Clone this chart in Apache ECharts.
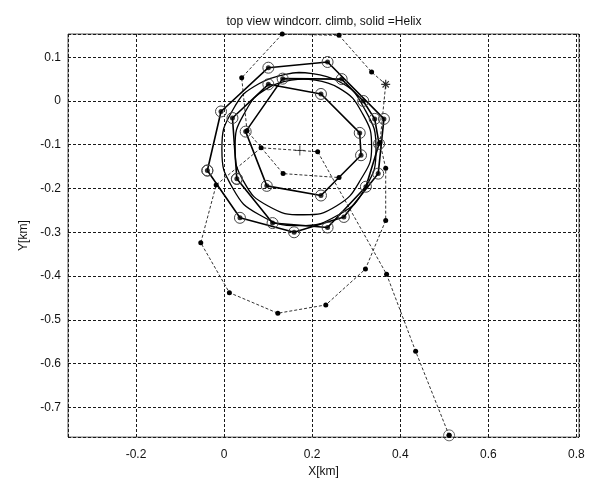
<!DOCTYPE html>
<html>
<head>
<meta charset="utf-8">
<script src="https://cdn.jsdelivr.net/npm/echarts@6/dist/echarts.min.js"></script>
<style>
  html, body { margin: 0; padding: 0; background: #fff; }
  #chart { width: 593px; height: 483px; }
</style>
</head>
<body>
<div id="chart"></div>
<script>
// Wind-corrected climb track (dashed, small dots), in km, in flight order
const trackX = [0.511, 0.435, 0.369, 0.2125, 0.084, -0.018, -0.053, 0.012, 0.122, 0.231, 0.321,
                0.367, 0.367, 0.354, 0.367, 0.335, 0.261, 0.132, 0.040, 0.052, 0.134, 0.261];
const trackY = [-0.764, -0.572, -0.396, -0.116, -0.107, -0.192, -0.324, -0.438, -0.485, -0.466, -0.384,
                -0.273, -0.154, -0.095, 0.038, 0.066, 0.150, 0.1528, 0.053, -0.068, -0.166, -0.175];
// index of the track point drawn as '*' instead of a dot
const starIndex = 14;

// Helix points (solid polylines with circled markers), in km
const outerX = [-0.038, 0.036, 0.159, 0.272, 0.350, 0.363, 0.235, 0.1005, -0.007, -0.038];
const outerY = [-0.159, -0.267, -0.300, -0.265, -0.166, -0.041, 0.089, 0.076, -0.024, -0.159];
const innerX = [0.029, 0.110, 0.235, 0.322, 0.352, 0.342, 0.316, 0.267, 0.133, 0.049,
                0.097, 0.220, 0.311, 0.308, 0.220, 0.1005, 0.019, 0.029];
const innerY = [-0.178, -0.279, -0.289, -0.196, -0.098, -0.041, 0.000, 0.050, 0.051, -0.070,
                -0.194, -0.216, -0.124, -0.073, 0.016, 0.038, -0.039, -0.178];

// Fitted helix circles (smooth solid curves)
const fitAX = [0.17, 0.26, 0.32, 0.345, 0.32, 0.26, 0.17, 0.08, 0.02, -0.005, 0.02, 0.08, 0.17];
const fitAY = [0.065, 0.045, -0.02, -0.11, -0.20, -0.26, -0.285, -0.26, -0.20, -0.11, -0.02, 0.04, 0.065];
const fitBX = [0.18, 0.26, 0.315, 0.335, 0.31, 0.255, 0.18, 0.10, 0.045, 0.025, 0.045, 0.10, 0.18];
const fitBY = [0.05, 0.03, -0.03, -0.105, -0.18, -0.24, -0.26, -0.24, -0.185, -0.105, -0.03, 0.03, 0.05];

// Thermal centre estimate (+)
const centrePt = [0.172, -0.113];

const xMin = -0.3545, xMax = 0.806;
const yMin = -0.768, yMax = 0.153;

const pairs = (xs, ys) => xs.map((x, i) => [x, ys[i]]);

const font = '"Liberation Sans", Arial, sans-serif';
const gridLine = { show: true, lineStyle: { color: '#1a1a1a', type: [3, 2], width: 1 } };

const trackData = pairs(trackX, trackY).map((p, i) =>
  i === starIndex ? { value: p, symbol: 'none' } : { value: p });
const helixPts = pairs(outerX.slice(0, -1), outerY.slice(0, -1))
  .concat(pairs(innerX.slice(0, -1), innerY.slice(0, -1)));
const startPt = [trackX[0], trackY[0]];
const starPt = [trackX[starIndex], trackY[starIndex]];

const ringStyle = { color: 'rgba(0,0,0,0)', borderColor: '#444', borderWidth: 1 };

const chart = echarts.init(document.getElementById('chart'), null, { renderer: 'canvas' });
chart.setOption({
  animation: false,
  backgroundColor: '#ffffff',
  title: {
    text: 'top view windcorr. climb, solid =Helix',
    left: 319, top: 11, textAlign: 'center',
    textStyle: { fontFamily: font, fontSize: 12, fontWeight: 'normal', color: '#111' }
  },
  grid: { left: 68, top: 34, width: 511, height: 407, show: true, borderColor: '#555', borderWidth: 1, backgroundColor: '#fff' },
  xAxis: {
    type: 'value', min: xMin, max: xMax, splitNumber: 6,
    name: 'X[km]', nameLocation: 'middle', nameGap: 25,
    nameTextStyle: { fontFamily: font, fontSize: 12, color: '#111' },
    axisLine: { show: false }, axisTick: { show: false },
    axisLabel: { fontFamily: font, fontSize: 12, color: '#111', margin: 12, showMinLabel: false, showMaxLabel: false },
    splitLine: gridLine
  },
  yAxis: {
    type: 'value', min: yMin, max: yMax, splitNumber: 9,
    name: 'Y[km]', nameLocation: 'middle', nameGap: 27,
    nameTextStyle: { fontFamily: font, fontSize: 12, color: '#111' },
    axisLine: { show: false }, axisTick: { show: false },
    axisLabel: { fontFamily: font, fontSize: 12, color: '#111', margin: 7, showMinLabel: false, showMaxLabel: false },
    splitLine: gridLine
  },
  series: [
    {
      type: 'line', data: trackData, clip: true, z: 2,
      lineStyle: { color: '#333', width: 1, type: [3, 2] },
      symbol: 'circle', symbolSize: 5, itemStyle: { color: '#000' }
    },
    {
      type: 'line', data: pairs(fitAX, fitAY), smooth: 0.5, symbol: 'none', z: 3,
      lineStyle: { color: '#000', width: 1.3 }
    },
    {
      type: 'line', data: pairs(fitBX, fitBY), smooth: 0.5, symbol: 'none', z: 3,
      lineStyle: { color: '#000', width: 1.3 }
    },
    {
      type: 'line', data: pairs(outerX, outerY), z: 4,
      lineStyle: { color: '#000', width: 1.6 },
      symbol: 'circle', symbolSize: 11, itemStyle: ringStyle
    },
    {
      type: 'line', data: pairs(innerX, innerY), z: 4,
      lineStyle: { color: '#000', width: 1.6 },
      symbol: 'circle', symbolSize: 11, itemStyle: ringStyle
    },
    {
      type: 'scatter', data: helixPts.concat([startPt]), z: 5,
      symbol: 'circle', symbolSize: 5, itemStyle: { color: '#000' }
    },
    {
      type: 'scatter', data: [startPt], symbol: 'circle', symbolSize: 11, z: 5,
      itemStyle: ringStyle
    },
    {
      type: 'scatter', data: [centrePt], symbol: 'path://M5,0L5,10M0,5L10,5', symbolSize: 10, z: 5,
      itemStyle: { color: 'none', borderColor: '#222', borderWidth: 1 }
    },
    {
      type: 'scatter', data: [starPt], symbol: 'path://M5,0L5,10M0,5L10,5M1.5,1.5L8.5,8.5M8.5,1.5L1.5,8.5', symbolSize: 9, z: 5,
      itemStyle: { color: 'none', borderColor: '#000', borderWidth: 1.2 }
    }
  ]
});
</script>
</body>
</html>
